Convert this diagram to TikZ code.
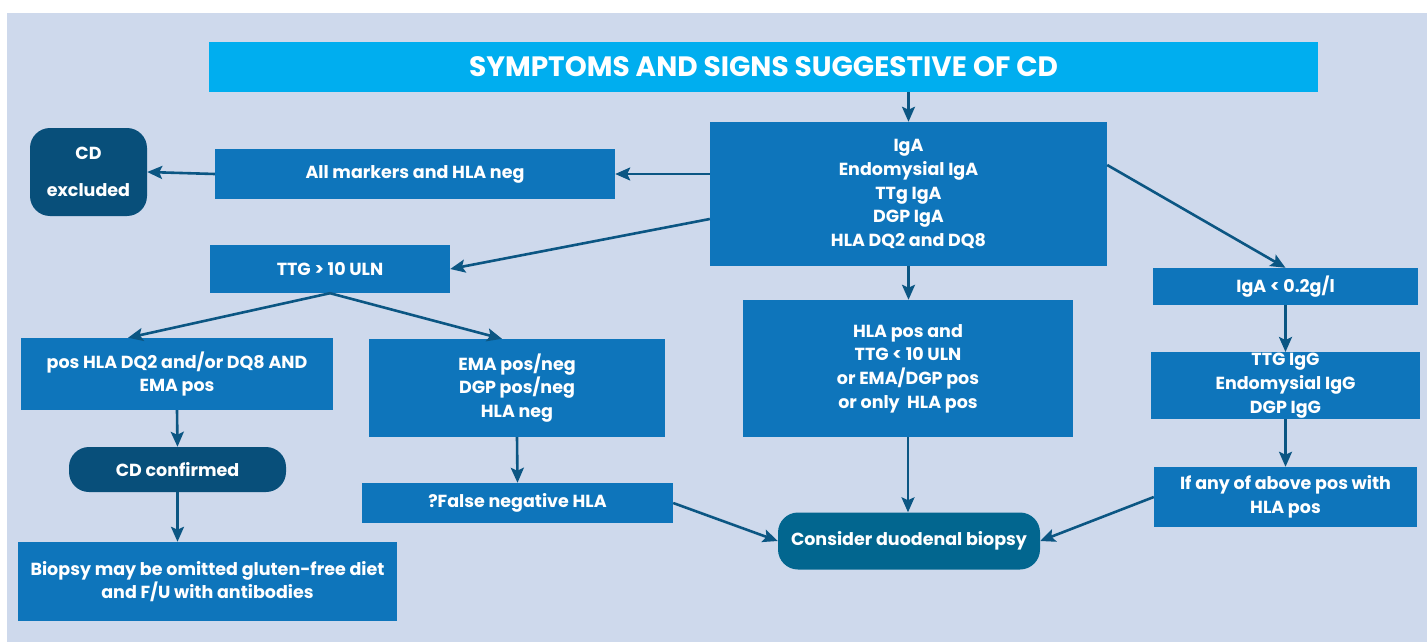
\documentclass[tikz,border=0pt]{standalone}
\usepackage{fontspec}
\setmainfont{Poppins}
\usetikzlibrary{positioning, arrows.meta, calc}

\definecolor{bgblue}{HTML}{CED9EC}
\definecolor{titleblue}{HTML}{00AEEF}
\definecolor{boxblue}{HTML}{0E75BB}
\definecolor{darkblue}{HTML}{084F7A}
\definecolor{midblue}{HTML}{02668F}
\definecolor{arrowblue}{HTML}{0B5683}

\begin{document}
\begin{tikzpicture}[
        x=1pt, y=-1pt,
        box/.style={
          fill=boxblue,
          text=white,
          inner sep=1pt,
          align=center,
          font=\fontsize{17.5}{23.7}\selectfont\bfseries
        },
        endbox/.style={
          box,
          fill=darkblue,
          rounded corners=20pt
        },
        link/.style={
          draw=arrowblue,
          line width=2.6pt,
          -{Stealth[length=15pt,width=13pt,inset=3pt]}
        }
      ]
        \useasboundingbox (0,0) rectangle (1427,642);
        \fill[bgblue] (7,13) rectangle (1427,642);

        % top of the chart
        \node[box, fill=titleblue, minimum width=1109pt, minimum height=50pt,
              font=\fontsize{28}{32}\selectfont\bfseries] (title) at (763.5,67)
              {SYMPTOMS AND SIGNS SUGGESTIVE OF CD};
        \node[box, minimum width=397pt, minimum height=144pt] (tests) at (908.5,194)
              {IgA\\Endomysial IgA\\TTg IgA\\DGP IgA\\HLA DQ2 and DQ8};

        % left branch
        \node[box, minimum width=400pt, minimum height=50pt] (allneg) at (415,174)
              {All markers and HLA neg};
        \node[endbox, minimum width=117pt, minimum height=88pt, font=\fontsize{17.5}{37}\selectfont\bfseries] (excluded) at (88.5,172)
              {CD\\excluded};
        \node[box, minimum width=240pt, minimum height=48pt] (ttghigh) at (330,269)
              {TTG > 10 ULN};
        \node[box, minimum width=312pt, minimum height=72pt] (hladq) at (177,374)
              {pos HLA DQ2 and/or DQ8 AND\\EMA pos};
        \node[box, minimum width=296pt, minimum height=98pt] (emaneg) at (517,388)
              {EMA pos/neg\\DGP pos/neg\\HLA neg};
        \node[endbox, minimum width=217pt, minimum height=45pt] (confirmed) at (177.5,469.5)
              {CD confirmed};
        \node[box, minimum width=311pt, minimum height=40pt] (falseneg) at (517.5,503)
              {?False negative HLA};
        \node[box, minimum width=379pt, minimum height=79pt] (omit) at (207.5,581.5)
              {Biopsy may be omitted gluten-free diet\\and F/U with antibodies};

        % middle
        \node[box, minimum width=330pt, minimum height=137pt] (hlapos) at (908,368.5)
              {HLA pos and\\TTG < 10 ULN\\or EMA/DGP pos\\or only\ \ HLA pos};
        \node[endbox, fill=midblue, minimum width=262pt, minimum height=57pt] (biopsy) at (909,541)
              {Consider duodenal biopsy};

        % IgA deficiency branch
        \node[box, minimum width=265pt, minimum height=37pt] (igalow) at (1285.5,286.5)
              {IgA < 0.2g/l};
        \node[box, minimum width=269pt, minimum height=66pt] (iggtests) at (1285.5,385.5)
              {TTG IgG\\Endomysial IgG\\DGP IgG};
        \node[box, minimum width=263pt, minimum height=60pt] (anypos) at (1285.5,497)
              {If any of above pos with\\HLA pos};

        \draw[link] (tests.north |- title.south) -- (tests.north);
        \draw[link] (tests.west |- allneg.east) -- (allneg.east);
        \draw[link] (allneg.west) -- (excluded.east);
        \draw[link] ($(tests.west)+(0,25)$) -- (ttghigh.east);
        \draw[link] (ttghigh.south) -- ($(hladq.north)+(-49,0)$);
        \draw[link] (ttghigh.south) -- ($(emaneg.north)+(-15,0)$);
        \draw[link] (hladq.south) -- (confirmed.north);
        \draw[link] (confirmed.south) -- (confirmed.south |- omit.north);
        \draw[link] (emaneg.south) -- (falseneg.north);
        \draw[link] (tests.south) -- (tests.south |- hlapos.north);
        \draw[link] (hlapos.south) -- (hlapos.south |- biopsy.north);
        \draw[link] (falseneg.east) -- (biopsy.west);
        \draw[link] ($(tests.east)+(0,-29)$) -- (igalow.north);
        \draw[link] (igalow.south) -- (iggtests.north);
        \draw[link] (iggtests.south) -- (anypos.north);
        \draw[link] (anypos.west) -- (biopsy.east);
      \end{tikzpicture}
\end{document}
